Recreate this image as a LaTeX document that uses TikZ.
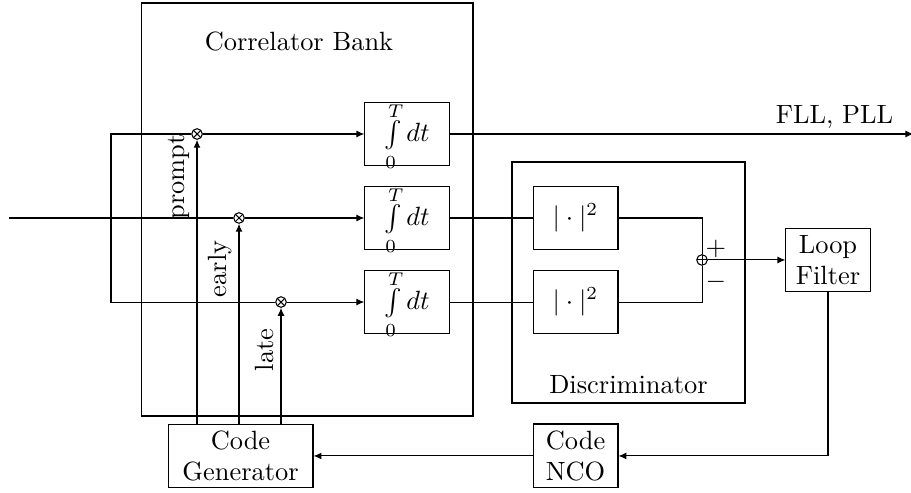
\documentclass[tikz,border=0pt]{standalone}
\usepackage{tikz}
\usetikzlibrary{arrows.meta,positioning,calc}

\newcommand{\intdt}{$\int\limits_{\raisebox{-1pt}{$\scriptstyle 0$}}^{\raisebox{-1.8pt}{$\scriptstyle T$}} dt$}

\begin{document}
\begin{tikzpicture}[
      blk/.style={draw, minimum width=1.12cm, minimum height=0.84cm, align=center, inner sep=2pt},
      intblk/.style={draw, minimum width=1.12cm, inner sep=0pt, text height=14.8pt, text depth=9.1pt},
      mixer/.style={draw, circle, inner sep=0pt, minimum size=4pt,
                    path picture={\draw (path picture bounding box.north west) -- (path picture bounding box.south east)
                                        (path picture bounding box.north east) -- (path picture bounding box.south west);}},
      adder/.style={draw, circle, inner sep=0pt, minimum size=4pt,
                    path picture={\draw (path picture bounding box.north) -- (path picture bounding box.south)
                                        (path picture bounding box.west) -- (path picture bounding box.east);}},
      arr/.style={-{Latex[length=3pt,width=2.6pt]}},
      tag/.style={rotate=90, anchor=south, inner sep=2.5pt}
    ]
      \useasboundingbox (0,0) rectangle (12.128,6.55);

      % frames
      \draw (1.890,1.012) rectangle (6.297,6.510);
      \draw (6.816,1.185) rectangle (9.918,4.393);
      \node (bank) at (3.98,6.00) {Correlator Bank};
      \node (disc) at (8.367,1.43) {Discriminator};

      % correlators
      \node[mixer] (pm) at (2.623,4.766) {};
      \node[mixer] (em) at (3.182,3.648) {};
      \node[mixer] (lm) at (3.741,2.529) {};
      \node[intblk] (int1) at (5.418,4.766) {\intdt};
      \node[intblk] (int2) at (5.418,3.648) {\intdt};
      \node[intblk] (int3) at (5.418,2.529) {\intdt};

      % discriminator
      \node[blk, minimum width=1.13cm] (sq1) at (7.662,3.648) {$|\cdot|^2$};
      \node[blk, minimum width=1.13cm] (sq2) at (7.662,2.529) {$|\cdot|^2$};
      \node[adder] (sum) at (9.346,3.089) {};
      \node (plus) at (9.53,3.24) {$+$};
      \node (minus) at (9.53,2.80) {$-$};

      % loop
      \node[blk, minimum height=0.83cm] (lf) at (11.023,3.089) {Loop\\Filter};
      \node[blk, minimum width=1.13cm, minimum height=0.85cm] (nco) at (7.662,0.48) {Code\\NCO};
      \node[blk, minimum width=1.93cm, minimum height=0.83cm] (cg) at (3.202,0.48) {Code\\Generator};

      \node[tag] (ptag) at (2.623,4.194) {prompt};
      \node[tag] (etag) at (3.182,2.969) {early};
      \node[tag] (ltag) at (3.741,1.890) {late};

      \coordinate (in) at (0.12,3.648);
      \coordinate (lt) at (1.478,4.766);
      \coordinate (lb) at (1.478,2.529);
      \coordinate (out) at (12.16,4.766);
      \node[anchor=base] (outlbl) at (11.11,4.912) {FLL, PLL};

      \draw (in) -- (em);
      \draw (pm) -- (lt) -- (lb) -- (lm);
      \draw[arr] (pm) -- (int1);
      \draw[arr] (em) -- (int2);
      \draw[arr] (lm) -- (int3);
      \draw[arr] (int1) -- (out);
      \draw (int2) -- (sq1);
      \draw (int3) -- (sq2);
      \draw (sq1.east) -| (sum.north);
      \draw (sq2.east) -| (sum.south);
      \draw[arr] (sum) -- (lf);
      \draw[arr] (lf.south) |- (nco.east);
      \draw[arr] (nco) -- (cg);
      \draw[arr] (cg.north -| pm) -- (pm);
      \draw[arr] (cg.north -| em) -- (em);
      \draw[arr] (cg.north -| lm) -- (lm);
    \end{tikzpicture}
\end{document}
